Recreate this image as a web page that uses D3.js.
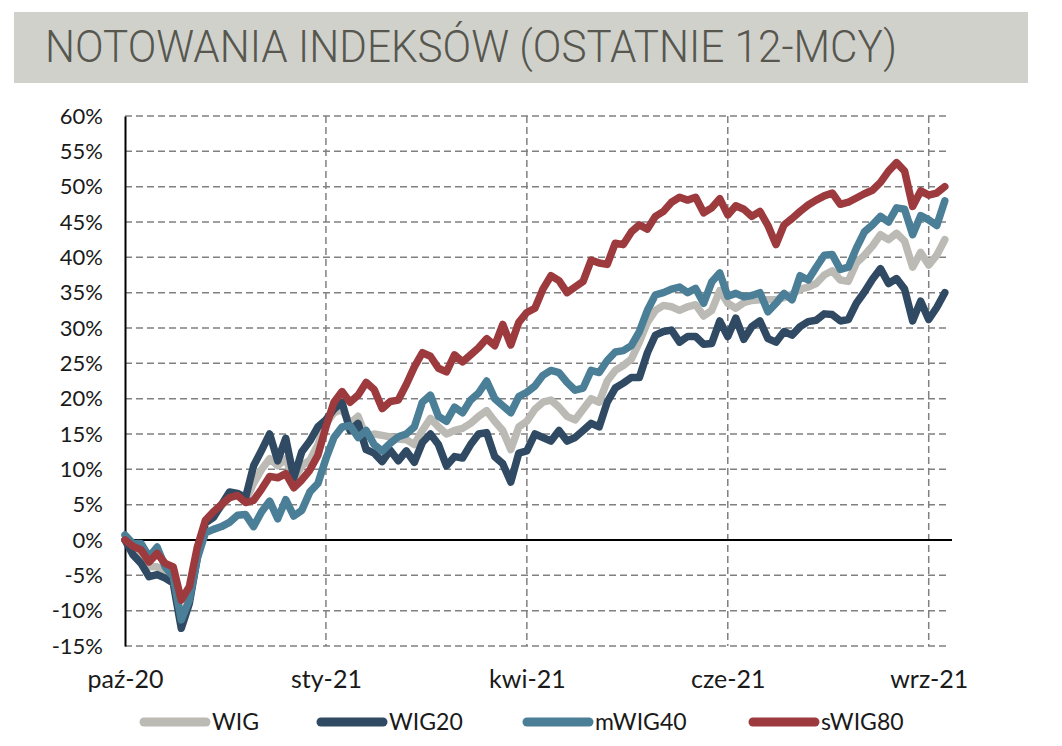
<!DOCTYPE html>
<html>
<head>
<meta charset="utf-8">
<script src="https://cdn.jsdelivr.net/npm/d3@7"></script>
<style>
  html, body { margin: 0; padding: 0; background: #ffffff; }
  svg { display: block; }
</style>
</head>
<body>
<svg id="chart" width="1062" height="746"></svg>
<script>
// ---------- DATA ----------
const title = "NOTOWANIA INDEKSÓW (OSTATNIE 12-MCY)";
const seriesNames = ["WIG", "WIG20", "mWIG40", "sWIG80"];
const seriesColors = ["#bcbab4", "#2f4a62", "#4b7f97", "#9c3a3e"];

const xTickLabels = ["paź-20", "sty-21", "kwi-21", "cze-21", "wrz-21"];
const xTickIndex = [0, 25, 50, 75, 100];

const yTicks = [-15, -10, -5, 0, 5, 10, 15, 20, 25, 30, 35, 40, 45, 50, 55, 60];

const wig = [0,-1.5,-2.6,-3.8,-3.8,-4.5,-5.3,-11.0,-8.5,-2.0,
  2.5,3.5,4.8,6.3,6.5,5.6,8.0,10.0,11.5,10.5,
  11.5,8.5,10.5,11.3,13.5,16.5,18.0,18.5,16.5,17.5,
  14.6,15.0,14.8,14.6,14.3,14.2,13.5,15.5,17.2,16.0,
  15.0,15.5,15.8,16.5,17.5,18.3,16.8,15.5,12.8,16.0,
  16.8,18.5,19.5,19.8,18.8,17.5,17.0,18.5,20.0,19.5,
  22.5,24.0,24.7,25.6,28.0,30.8,32.5,33.2,33.0,32.5,
  33.0,33.3,31.7,32.5,35.3,33.5,32.8,33.6,33.9,34.0,
  34.0,34.0,34.3,34.8,35.5,35.8,36.3,37.5,38.1,36.8,
  36.6,39.2,40.3,41.6,43.2,42.5,43.4,42.3,38.6,40.7,
  38.9,40.3,42.5];

const wig20 = [0,-2.1,-3.3,-5.2,-4.9,-5.4,-6.1,-12.5,-9.0,-2.5,
  2.4,3.2,5.0,6.8,6.6,6.0,10.5,12.7,15.0,11.2,
  14.4,8.8,12.5,14.0,16.0,17.0,18.5,19.5,15.5,16.5,
  12.8,12.3,11.1,12.7,11.2,12.6,11.0,13.8,15.0,13.5,
  10.5,11.8,11.6,13.5,15.0,15.2,11.8,10.8,8.2,12.3,
  12.6,15.0,14.5,14.0,15.5,14.0,14.5,15.5,16.5,16.0,
  19.5,21.5,22.2,23.0,23.0,26.5,29.0,29.5,29.7,28.0,
  28.8,28.8,27.7,27.8,31.0,28.8,31.4,28.4,30.2,31.0,
  28.5,28.0,29.5,29.0,30.2,30.9,31.1,32.0,31.9,31.0,
  31.2,33.5,35.1,36.9,38.4,36.3,37.0,35.5,31.0,33.8,
  31.2,32.9,35.0];

const mwig40 = [0.7,-0.5,-0.5,-2.4,-1.0,-3.8,-5.2,-11.3,-8.5,-2.6,
  1.0,1.5,1.9,2.5,3.5,3.6,1.9,4.0,5.5,3.0,
  5.7,3.4,4.2,6.8,8.0,11.5,14.5,16.0,16.2,14.5,
  15.5,13.5,12.6,13.7,14.6,15.0,16.0,19.5,20.5,17.5,
  16.8,18.8,18.0,19.8,20.8,22.5,20.0,19.0,18.0,20.3,
  20.9,21.8,23.3,24.0,23.7,22.3,21.2,21.5,24.0,23.7,
  25.4,26.6,26.8,27.5,29.5,32.5,34.7,35.0,35.5,35.8,
  35.0,35.6,33.5,36.5,37.8,34.5,34.9,34.4,34.6,35.0,
  32.3,33.5,34.9,34.0,37.4,36.8,38.6,40.3,40.4,38.3,
  38.6,41.3,43.6,44.6,45.8,45.0,47.0,46.8,43.2,45.9,
  45.3,44.5,48.0];

const swig80 = [0,-0.9,-1.4,-3.1,-1.9,-3.3,-3.8,-8.5,-6.6,-1.0,
  2.8,4.0,5.0,6.0,6.3,5.3,5.6,7.2,9.0,8.8,
  9.4,7.4,8.5,9.9,12.0,16.0,19.5,21.0,19.5,20.5,
  22.3,21.3,18.6,19.6,19.8,22.0,24.5,26.5,26.0,24.3,
  23.8,26.2,25.2,26.2,27.2,28.5,27.5,30.5,27.6,30.8,
  32.2,32.8,35.5,37.4,36.7,35.0,35.8,36.6,39.6,39.2,
  39.0,42.0,41.8,43.6,44.6,44.0,45.8,46.5,47.8,48.5,
  48.1,48.5,46.3,47.0,48.3,46.0,47.3,46.8,45.8,46.5,
  44.5,41.8,44.6,45.5,46.5,47.4,48.1,48.7,49.1,47.5,
  47.8,48.4,49.0,49.5,50.6,52.2,53.4,52.2,47.2,49.4,
  48.8,49.1,50.0];

const seriesValues = [wig, wig20, mwig40, swig80];

// ---------- LAYOUT ----------
const svg = d3.select("#chart");
const plot = { left: 125, right: 948, top: 116, bottom: 646 };

const x = d3.scaleLinear().domain([0, 102.4]).range([plot.left, plot.right]);
const y = d3.scaleLinear().domain([-15, 60]).range([plot.bottom, plot.top]);

// Title band
svg.append("rect")
  .attr("x", 14).attr("y", 12).attr("width", 1014).attr("height", 71)
  .attr("fill", "#d1d1cc");
svg.append("text")
  .attr("x", 45).attr("y", 62)
  .attr("font-family", "Roboto, 'Open Sans', sans-serif")
  .attr("font-weight", 300)
  .attr("font-size", 45)
  .attr("fill", "#57574f")
  .attr("textLength", 852)
  .attr("lengthAdjust", "spacingAndGlyphs")
  .text(title);

// Horizontal gridlines
svg.append("g").selectAll("line")
  .data(yTicks.filter(d => d !== 0))
  .join("line")
  .attr("x1", plot.left).attr("x2", plot.right)
  .attr("y1", d => y(d)).attr("y2", d => y(d))
  .attr("stroke", "#808080").attr("stroke-width", 1.5)
  .attr("stroke-dasharray", "7,4");

// Vertical gridlines
svg.append("g").selectAll("line")
  .data(xTickIndex.slice(1))
  .join("line")
  .attr("x1", d => x(d)).attr("x2", d => x(d))
  .attr("y1", plot.top).attr("y2", plot.bottom)
  .attr("stroke", "#808080").attr("stroke-width", 1.5)
  .attr("stroke-dasharray", "7,4");

// Zero line
svg.append("line")
  .attr("x1", plot.left).attr("x2", plot.right + 4)
  .attr("y1", y(0)).attr("y2", y(0))
  .attr("stroke", "#000").attr("stroke-width", 2);

// Left axis
const yAxis = d3.axisLeft(y).tickValues(yTicks).tickSize(0).tickPadding(22)
  .tickFormat(d => d + "%");
const gy = svg.append("g").attr("transform", `translate(${plot.left},0)`).call(yAxis);
gy.select(".domain").attr("stroke", "#000").attr("stroke-width", 2);
gy.selectAll("text")
  .attr("font-family", "Lato, 'Open Sans', sans-serif")
  .attr("font-size", 22)
  .attr("fill", "#1a1a1a");

// Bottom labels
const xAxis = d3.axisBottom(x).tickValues(xTickIndex).tickSize(0).tickPadding(0)
  .tickFormat((d, i) => xTickLabels[i]);
const gx = svg.append("g").attr("transform", `translate(0,${plot.bottom + 24})`).call(xAxis);
gx.select(".domain").remove();
gx.selectAll("text")
  .attr("font-family", "Lato, 'Open Sans', sans-serif")
  .attr("font-size", 25)
  .attr("fill", "#1a1a1a");

// Lines
const line = d3.line().x((d, i) => x(i)).y(d => y(d));
svg.append("g").selectAll("path")
  .data(seriesValues)
  .join("path")
  .attr("d", d => line(d))
  .attr("fill", "none")
  .attr("stroke", (d, i) => seriesColors[i])
  .attr("stroke-width", 7.5)
  .attr("stroke-linejoin", "round")
  .attr("stroke-linecap", "round");

// Legend
const legendX = [140, 317, 523, 749];
const lg = svg.append("g").selectAll("g")
  .data(seriesNames)
  .join("g")
  .attr("transform", (d, i) => `translate(${legendX[i]},722)`);
lg.append("line")
  .attr("x1", 4).attr("x2", 66).attr("y1", 0).attr("y2", 0)
  .attr("stroke", (d, i) => seriesColors[i])
  .attr("stroke-width", 9)
  .attr("stroke-linecap", "round");
lg.append("text")
  .attr("x", 72).attr("y", 8)
  .attr("font-family", "Lato, 'Open Sans', sans-serif")
  .attr("font-size", 23)
  .attr("fill", "#1a1a1a")
  .text(d => d);
</script>
</body>
</html>
